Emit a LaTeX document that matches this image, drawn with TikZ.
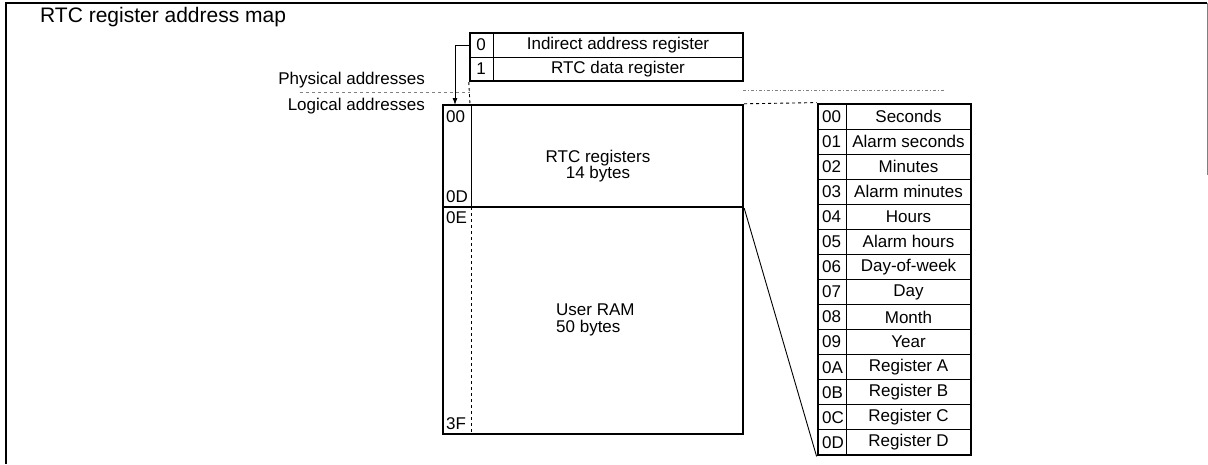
\documentclass[tikz,border=0pt]{standalone}
\usepackage{fontspec}
\setmainfont{Liberation Sans}
\usetikzlibrary{arrows.meta,calc}
\begin{document}
\begin{tikzpicture}[x=1pt,y=-1pt,
  heavy/.style={line width=2.4pt},
  fine/.style={line width=0.9pt},
  txt/.style={inner sep=0pt, font=\fontsize{17}{16.5}\selectfont},
  cell/.style={draw, heavy, inner sep=0pt}]
\useasboundingbox (0,0) rectangle (1208,464);
% frame
\draw[line width=1.5pt] (6,464) -- (6,3) -- (1207,3);
\draw[fine,gray] (1207,3) -- (1207,175);
% title and side labels
\node[inner sep=0pt, font=\fontsize{21}{24}\selectfont, anchor=west] (title) at (40,17) {RTC register address map};
\node[txt, anchor=east] (phys) at (425,80) {Physical addresses};
\node[txt, anchor=east] (logi) at (425,106) {Logical addresses};
% separator
\draw[fine, gray, dashed] (300,92) -- (470,92);
\draw[fine, gray, dash dot] (743,90) -- (945,90);
% physical table
\node[cell, minimum width=273pt, minimum height=48pt] (ptab) at (606.5,57) {};
\draw[fine] (470,57) -- (743,57);
\draw[fine] (493,33) -- (493,81);
\node[txt] (p0) at (481,45) {0};
\node[txt] (p0t) at (618,45) {Indirect address register};
\node[txt] (p1) at (481,69) {1};
\node[txt] (p1t) at (618,69) {RTC data register};
\coordinate (p0w) at (470,45);
\coordinate (bend) at (455,45);
\coordinate (arrend) at (455,105);
\draw[fine, -{Latex[length=7pt,width=5pt]}] (p0w) -- (bend) -- (arrend);
% logical map
\node[cell, minimum width=300pt, minimum height=102pt] (rtc) at (593,156) {};
\node[cell, minimum width=300pt, minimum height=227pt] (ram) at (593,320.5) {};
\draw[fine, dashed] (ptab.south west) -- (470,105);
\draw[fine] (471,105) -- (471,207);
\draw[fine, dashed] (471,207) -- (471,434);
\node[txt, anchor=west] (a00) at (446,117) {00};
\node[txt, anchor=west] (a0d) at (446,197) {0D};
\node[txt, anchor=west] (a0e) at (446,218) {0E};
\node[txt, anchor=west] (a3f) at (446,424) {3F};
\node[txt, align=center] (rtct) at (598,166) {RTC registers\\14 bytes};
\node[txt, align=left, anchor=west] (ramt) at (556,320) {User RAM\\50 bytes};
% register table
\node[cell, line width=2.8pt, minimum width=153pt, minimum height=351pt] (rt) at (894.5,279.5) {};
\foreach \k in {1,...,13} { \draw[fine] (818,{104+25.07*\k}) -- (971,{104+25.07*\k}); }
\draw[fine] (846,104) -- (846,455);
\foreach \ad/\lb [count=\k from 0] in {00/Seconds, 01/Alarm seconds, 02/Minutes, 03/Alarm minutes, 04/Hours, 05/Alarm hours, 06/Day-of-week, 07/Day, 08/Month, 09/Year, 0A/Register A, 0B/Register B, 0C/Register C, 0D/Register D} {
  \node[txt, anchor=west] (ra\k) at (822,{116.5+25.07*\k}) {\ad};
  \node[txt] (rl\k) at (908.5,{116.5+25.07*\k}) {\lb};
}
% expansion lines
\draw[fine] (rtc.south east) -- (rt.south west);
\draw[fine, dashed] (rtc.north east) -- (rt.north west);
\end{tikzpicture}
\end{document}
